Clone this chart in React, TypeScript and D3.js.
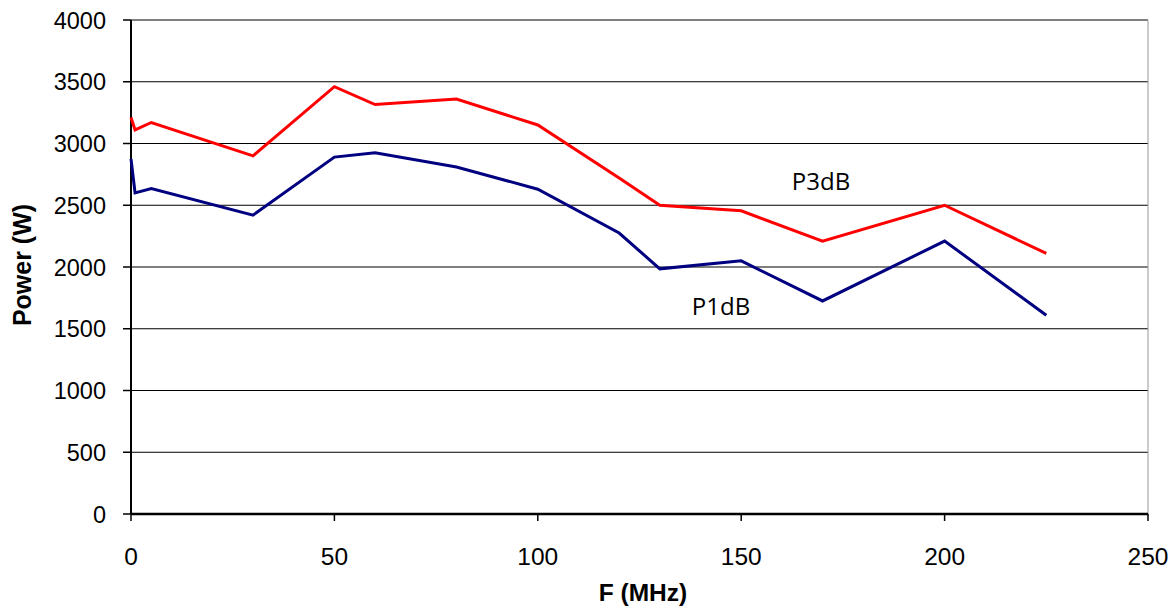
import React from "react";
import * as d3 from "d3";

const freqP3 = [0, 1, 5, 30, 50, 60, 80, 100, 120, 130, 150, 170, 200, 225];
const p3dB = [3210, 3110, 3170, 2900, 3460, 3315, 3360, 3150, 2720, 2500, 2455, 2210, 2500, 2110];
const freqP1 = [0, 1, 5, 30, 50, 60, 80, 100, 120, 130, 150, 170, 200, 225];
const p1dB = [2875, 2600, 2635, 2420, 2890, 2925, 2810, 2630, 2275, 1985, 2050, 1725, 2210, 1610];
const xTicks = [0, 50, 100, 150, 200, 250];
const yTicks = [0, 500, 1000, 1500, 2000, 2500, 3000, 3500, 4000];

export default function App() {
  const W = 1175, H = 612;
  const left = 131, right = 1148, top = 20, bottom = 514;
  const x = d3.scaleLinear().domain([0, 250]).range([left, right]);
  const y = d3.scaleLinear().domain([0, 4000]).range([bottom, top]);
  const line = d3.line<[number, number]>().x(d => x(d[0])).y(d => y(d[1]));
  const red = line(freqP3.map((f, i) => [f, p3dB[i]] as [number, number])) || "";
  const blue = line(freqP1.map((f, i) => [f, p1dB[i]] as [number, number])) || "";
  const font = "'Liberation Sans', Arial, sans-serif";
  const labelFont = "'Open Sans', 'Noto Sans', sans-serif";
  return (
    <svg width={W} height={H} style={{ position: "absolute", left: 0, top: 0 }} fontFamily={font}>
      <rect width={W} height={H} fill="#fff" />
      {yTicks.filter(t => t > 0).map(t => (
        <line key={"g" + t} x1={left} x2={right} y1={y(t)} y2={y(t)} stroke="#000" strokeWidth={1} />
      ))}
      <line x1={right} x2={right} y1={top} y2={bottom} stroke="#999" strokeWidth={1} />
      {yTicks.map(t => (
        <g key={"y" + t}>
          <line x1={left - 8} x2={left} y1={y(t)} y2={y(t)} stroke="#000" strokeWidth={1.5} />
          <text x={106} y={y(t) + 8.5} textAnchor="end" fontSize={23.5} fill="#000">{t}</text>
        </g>
      ))}
      {xTicks.map(t => (
        <g key={"x" + t}>
          <line x1={x(t)} x2={x(t)} y1={bottom} y2={bottom + 7} stroke="#000" strokeWidth={1.5} />
          <text x={x(t)} y={565} textAnchor="middle" fontSize={24.5} fill="#000">{t}</text>
        </g>
      ))}
      <line x1={left} x2={left} y1={top} y2={bottom} stroke="#000" strokeWidth={2} />
      <line x1={left} x2={right} y1={bottom} y2={bottom} stroke="#000" strokeWidth={2.5} />
      <path d={red} fill="none" stroke="#ff0000" strokeWidth={3} strokeLinejoin="miter" />
      <path d={blue} fill="none" stroke="#000080" strokeWidth={3} strokeLinejoin="miter" />
      <text x={821} y={190} textAnchor="middle" fontSize={24} fontFamily={labelFont} fill="#000">P3dB</text>
      <text x={721} y={315} textAnchor="middle" fontSize={24} fontFamily={labelFont} fill="#000">P1dB</text>
      <text x={643} y={601} textAnchor="middle" fontSize={24.5} fontWeight="bold" fill="#000">F (MHz)</text>
      <text transform={`translate(31,265) rotate(-90)`} textAnchor="middle" fontSize={25} fontWeight="bold" fill="#000">Power (W)</text>
    </svg>
  );
}
